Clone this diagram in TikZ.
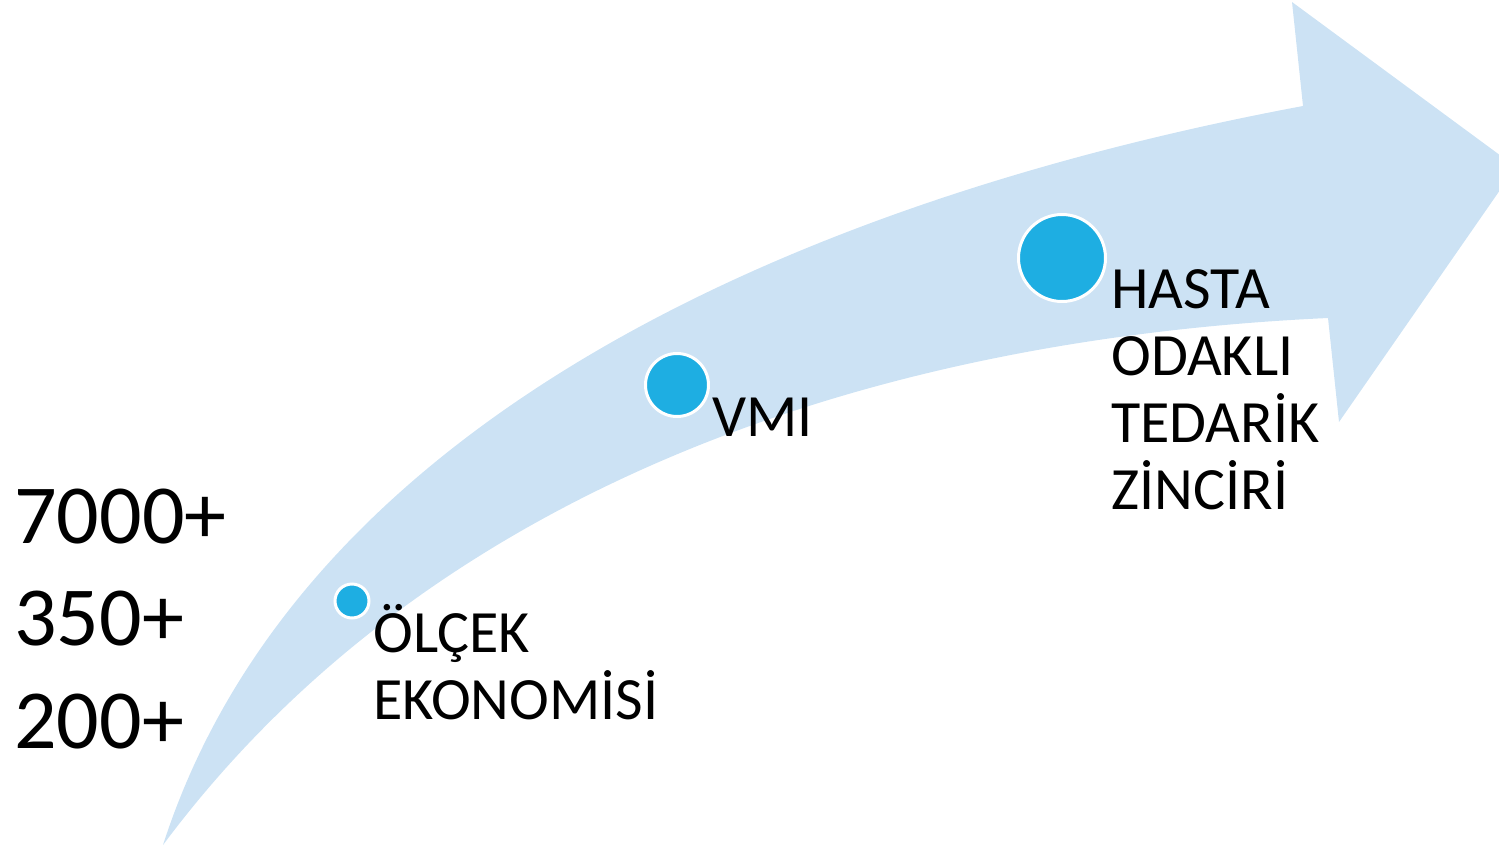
\documentclass[tikz,border=0pt]{standalone}
\usepackage{fontspec}
\setmainfont{Carlito}
\definecolor{arrowblue}{RGB}{204,226,244}
\definecolor{dotblue}{RGB}{30,174,226}
\tikzset{
  bullet/.style={circle, fill=dotblue, draw=white, line width=1.5pt, inner sep=0pt},
  stage/.style={anchor=base west, inner sep=0pt, align=left, font=\fontsize{30}{33.5}\selectfont},
  count/.style={anchor=base west, inner sep=0pt, align=left, font=\fontsize{42}{51.25}\selectfont}
}
\begin{document}
\begin{tikzpicture}[x=0.5pt, y=-0.5pt]
    \useasboundingbox (0, 0) rectangle (1499, 846);
    \clip (0, 0) rectangle (1499, 846);
    \fill[arrowblue] (163, 845) .. controls (300, 420) and (800, 200) .. (1303, 106)
        -- (1292, 2) -- (1516, 167) -- (1339, 422) -- (1328, 318)
        .. controls (850, 340) and (420, 500) .. cycle;

    \node[bullet, minimum size=17pt] (olcekdot) at (352, 601) {};
    \node[bullet, minimum size=31.5pt] (vmidot) at (677, 385) {};
    \node[bullet, minimum size=43.5pt] (hastadot) at (1062, 258) {};

    \node[stage] (olcek) at (373, 719) {ÖLÇEK\\EKONOMİSİ};
    \node[stage] (vmi) at (712, 436) {VMI};
    \node[stage] (hasta) at (1111, 509) {HASTA\\ODAKLI\\TEDARİK\\ZİNCİRİ};

    \node[count] (counts) at (14, 748) {7000+\\350+\\200+};
\end{tikzpicture}
\end{document}
